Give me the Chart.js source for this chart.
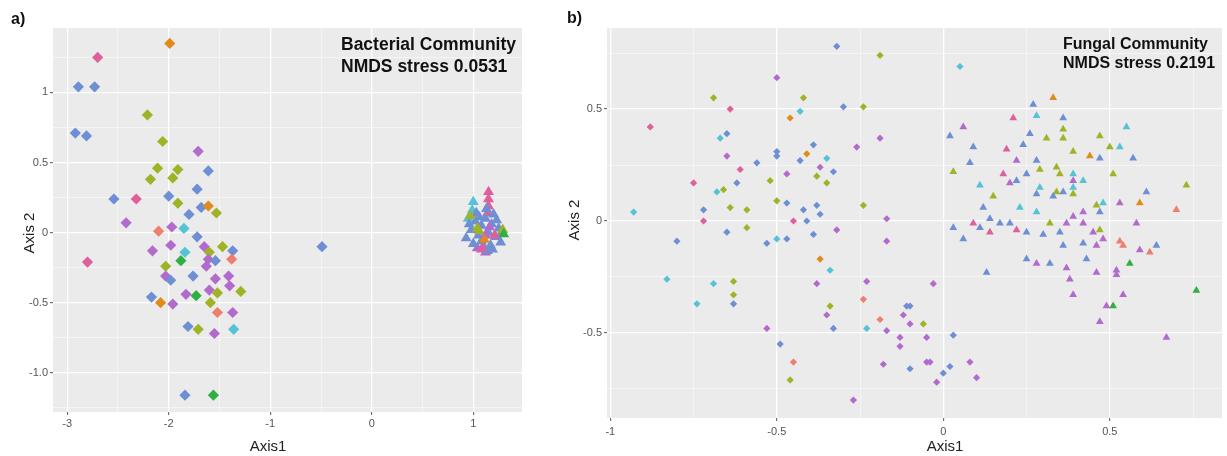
<!DOCTYPE html>
<html lang="en">
<head>
<meta charset="UTF-8">
<title>NMDS - Bacterial and Fungal Community</title>
<script src="https://cdn.jsdelivr.net/npm/chart.js@4"></script>
<style>
    html, body { margin: 0; padding: 0; background: #fff; }
    body { width: 1227px; height: 456px; position: relative; overflow: hidden; }
    .panel { position: absolute; top: 0; height: 456px; }
    #wrapA { left: 0; width: 540px; }
    #wrapB { left: 545px; width: 682px; }
</style>
</head>
<body>
<div class="panel" id="wrapA"><canvas id="chartA"></canvas></div>
<div class="panel" id="wrapB"><canvas id="chartB"></canvas></div>
<script>
// groups (colour key) -> palette
const groupColours = { B: '#6e8fd3', P: '#df5f9c', O: '#e08c1d', L: '#9fb327', U: '#b26bcd', C: '#55c3d6', S: '#ef7e6e', G: '#2fb043' };

// a) bacterial community: [axis1, axis2, group]
const bactDiamonds = [
    [-1.99,1.35,'O'],[-2.70,1.25,'P'],[-2.89,1.04,'B'],[-2.73,1.04,'B'],[-2.21,0.84,'L'],[-2.92,0.71,'B'],[-2.81,0.69,'B'],
    [-2.06,0.65,'L'],[-1.71,0.58,'U'],[-2.11,0.46,'L'],[-1.91,0.45,'L'],[-1.61,0.44,'B'],[-2.18,0.38,'L'],[-1.96,0.39,'L'],
    [-1.72,0.31,'B'],[-2.54,0.24,'B'],[-2.32,0.24,'P'],[-2.00,0.26,'B'],[-1.91,0.21,'L'],[-1.68,0.18,'B'],[-1.61,0.19,'O'],
    [-1.53,0.14,'L'],[-1.80,0.13,'B'],[-2.42,0.07,'U'],[-2.10,0.01,'S'],[-1.97,0.04,'U'],[-1.85,0.03,'C'],[-1.72,-0.03,'B'],
    [-2.16,-0.13,'U'],[-1.98,-0.09,'U'],[-1.84,-0.14,'C'],[-1.65,-0.10,'U'],[-1.60,-0.14,'L'],[-1.47,-0.10,'L'],[-1.37,-0.13,'B'],
    [-2.80,-0.21,'P'],[-2.03,-0.24,'L'],[-1.88,-0.20,'G'],[-1.61,-0.19,'U'],[-1.54,-0.20,'B'],[-1.63,-0.24,'U'],[-1.38,-0.19,'S'],
    [-2.03,-0.31,'U'],[-1.98,-0.34,'B'],[-1.76,-0.31,'B'],[-1.54,-0.33,'U'],[-1.41,-0.31,'U'],[-1.40,-0.38,'U'],[-1.60,-0.41,'U'],
    [-1.52,-0.43,'L'],[-1.29,-0.42,'L'],[-2.17,-0.46,'B'],[-1.83,-0.44,'U'],[-1.73,-0.45,'G'],[-2.08,-0.50,'O'],[-1.96,-0.51,'U'],
    [-1.59,-0.50,'L'],[-1.52,-0.57,'S'],[-1.37,-0.57,'U'],[-1.81,-0.67,'B'],[-1.71,-0.69,'L'],[-1.36,-0.69,'C'],[-1.55,-0.72,'U'],
    [-1.84,-1.16,'B'],[-1.56,-1.16,'G'],[-0.49,-0.10,'B']
];
const bactTriangles = [
    [1.15,0.29,'P'],[1.15,0.24,'P'],[1.15,0.19,'P'],[1.14,0.14,'P'],
    [1.00,0.22,'C'],[0.99,0.16,'C'],[0.95,0.10,'C'],
    [1.08,-0.12,'P'],[1.12,-0.14,'U'],[1.04,-0.11,'U'],
    [0.93,-0.04,'B'],[0.98,0.02,'B'],[1.02,0.08,'B'],[1.05,-0.02,'B'],[1.08,0.05,'B'],[1.12,0.10,'B'],[1.15,0.00,'B'],
    [1.18,0.06,'B'],[1.22,-0.03,'B'],[1.25,0.03,'B'],[1.27,-0.07,'B'],[1.20,0.13,'B'],[1.00,-0.08,'B'],[1.10,-0.10,'B'],
    [1.17,-0.09,'B'],[1.03,0.14,'B'],[1.13,0.17,'B'],[0.96,0.06,'B'],[1.08,-0.06,'B'],[1.23,0.09,'B'],[1.28,0.00,'B'],
    [1.06,0.11,'B'],[1.19,-0.12,'B'],[1.14,-0.13,'B'],
    [1.04,0.03,'L'],[1.06,0.01,'L'],[0.97,0.12,'L'],[1.29,0.02,'L'],
    [1.12,-0.02,'U'],[1.16,0.04,'U'],[1.11,-0.05,'O'],[1.30,-0.01,'G'],
    [1.21,-0.02,'P'],[1.09,-0.11,'P']
];

// b) fungal community: [axis1, axis2, group]
const fungDiamonds = [
    [-0.50,0.64,'U'],[-0.69,0.55,'L'],[-0.64,0.50,'P'],[-0.88,0.42,'P'],[-0.67,0.37,'C'],[-0.65,0.39,'B'],[-0.65,0.29,'U'],
    [-0.56,0.26,'B'],[-0.50,0.31,'B'],[-0.50,0.29,'B'],[-0.61,0.23,'P'],[-0.75,0.17,'P'],[-0.62,0.17,'B'],[-0.52,0.18,'L'],
    [-0.68,0.13,'C'],[-0.66,0.14,'L'],[-0.50,0.09,'L'],[-0.64,0.06,'L'],[-0.59,0.05,'L'],[-0.93,0.04,'C'],[-0.72,0.05,'B'],
    [-0.72,0.00,'P'],[-0.59,-0.03,'L'],[-0.65,-0.05,'B'],[-0.80,-0.09,'B'],[-0.53,-0.10,'B'],[-0.50,-0.08,'C'],[-0.83,-0.26,'C'],
    [-0.69,-0.28,'C'],[-0.63,-0.27,'L'],[-0.63,-0.33,'L'],[-0.74,-0.37,'C'],[-0.63,-0.37,'B'],[-0.53,-0.48,'U'],[-0.49,-0.55,'B'],
    [-0.32,0.78,'B'],[-0.19,0.74,'L'],[-0.42,0.55,'L'],[-0.43,0.49,'C'],[-0.46,0.46,'O'],[-0.30,0.51,'B'],[-0.24,0.51,'L'],
    [-0.19,0.37,'U'],[-0.26,0.33,'U'],[-0.39,0.34,'B'],[-0.41,0.30,'O'],[-0.43,0.27,'B'],[-0.35,0.28,'C'],[-0.37,0.24,'U'],
    [-0.33,0.22,'B'],[-0.47,0.21,'U'],[-0.38,0.20,'L'],[-0.35,0.17,'L'],[-0.47,0.08,'B'],[-0.38,0.07,'B'],[-0.42,0.05,'B'],
    [-0.37,0.03,'B'],[-0.24,0.07,'L'],[-0.45,0.00,'P'],[-0.41,0.00,'B'],[-0.17,0.01,'U'],[-0.32,-0.04,'U'],[-0.39,-0.06,'B'],
    [-0.47,-0.08,'B'],[0.05,0.69,'C'],
    [-0.17,-0.09,'U'],[-0.37,-0.17,'O'],[-0.34,-0.22,'C'],[-0.38,-0.28,'U'],[-0.23,-0.27,'U'],[-0.03,-0.28,'U'],[-0.24,-0.35,'S'],
    [-0.34,-0.38,'L'],[-0.35,-0.42,'U'],[-0.11,-0.38,'B'],[-0.10,-0.38,'B'],[-0.12,-0.42,'U'],[-0.19,-0.44,'S'],[-0.10,-0.46,'U'],
    [-0.06,-0.46,'L'],[-0.33,-0.48,'B'],[-0.23,-0.48,'C'],[-0.17,-0.49,'U'],[-0.13,-0.52,'U'],[-0.05,-0.52,'U'],[-0.13,-0.56,'U'],
    [-0.45,-0.63,'S'],[-0.18,-0.64,'U'],[-0.10,-0.66,'B'],[-0.05,-0.63,'U'],[-0.04,-0.63,'U'],[0.00,-0.68,'B'],[-0.46,-0.71,'L'],
    [-0.02,-0.72,'U'],[0.02,-0.65,'B'],[-0.27,-0.80,'U'],[0.03,-0.51,'B'],[0.08,-0.63,'U'],[0.10,-0.70,'U']
];
const fungTriangles = [
    [0.33,0.55,'O'],[0.27,0.52,'B'],[0.28,0.47,'C'],[0.21,0.46,'P'],[0.36,0.46,'B'],[0.36,0.41,'L'],[0.06,0.42,'U'],
    [0.02,0.38,'B'],[0.26,0.39,'B'],[0.31,0.37,'L'],[0.36,0.37,'L'],[0.55,0.42,'C'],[0.47,0.38,'L'],[0.50,0.33,'L'],
    [0.53,0.33,'C'],[0.09,0.33,'B'],[0.19,0.32,'P'],[0.24,0.34,'B'],[0.39,0.31,'L'],[0.44,0.29,'O'],[0.47,0.28,'B'],
    [0.57,0.28,'B'],[0.08,0.26,'B'],[0.22,0.27,'U'],[0.28,0.27,'B'],[0.03,0.22,'L'],[0.29,0.23,'L'],[0.34,0.24,'L'],
    [0.35,0.21,'L'],[0.39,0.21,'C'],[0.42,0.18,'C'],[0.51,0.21,'L'],[0.18,0.21,'P'],[0.20,0.17,'U'],[0.22,0.18,'B'],
    [0.25,0.21,'B'],[0.39,0.18,'U'],[0.39,0.15,'C'],[0.73,0.16,'L'],[0.11,0.16,'C'],[0.29,0.15,'C'],[0.28,0.12,'B'],
    [0.34,0.13,'L'],[0.36,0.13,'B'],[0.39,0.12,'L'],[0.15,0.11,'L'],[0.33,0.11,'B'],[0.61,0.13,'B'],[0.59,0.08,'O'],
    [0.53,0.08,'U'],[0.46,0.07,'L'],[0.48,0.08,'C'],[0.70,0.05,'S'],[0.12,0.06,'B'],[0.23,0.06,'C'],[0.28,0.04,'C'],
    [0.42,0.04,'U'],[0.39,0.02,'U'],[0.47,0.04,'B'],[0.14,0.01,'B'],[0.03,-0.03,'B'],[0.09,-0.01,'P'],[0.11,-0.03,'B'],
    [0.14,-0.05,'P'],[0.17,-0.01,'B'],[0.20,-0.01,'B'],[0.22,-0.04,'P'],[0.25,-0.05,'B'],[0.32,-0.01,'L'],[0.37,-0.01,'U'],
    [0.42,-0.01,'U'],[0.58,-0.01,'U'],[0.35,-0.05,'B'],[0.30,-0.06,'B'],[0.45,-0.05,'U'],[0.47,-0.04,'L'],
    [0.06,-0.08,'B'],[0.48,-0.08,'U'],[0.53,-0.09,'S'],[0.54,-0.11,'S'],[0.59,-0.13,'U'],[0.62,-0.14,'S'],[0.64,-0.11,'B'],
    [0.36,-0.11,'B'],[0.42,-0.10,'B'],[0.46,-0.11,'U'],[0.25,-0.17,'B'],[0.28,-0.19,'U'],[0.32,-0.19,'B'],[0.43,-0.17,'B'],
    [0.37,-0.21,'U'],[0.46,-0.23,'U'],[0.52,-0.22,'U'],[0.52,-0.24,'U'],[0.56,-0.19,'G'],[0.13,-0.23,'B'],[0.38,-0.26,'U'],
    [0.39,-0.33,'U'],[0.54,-0.33,'U'],[0.76,-0.31,'G'],[0.49,-0.38,'U'],[0.51,-0.38,'G'],[0.47,-0.45,'U'],[0.67,-0.52,'U']
];

// tick values and labels
const aXMajor = [-3, -2, -1, 0, 1];
const aXLabels = ['-3', '-2', '-1', '0', '1'];
const aXMinor = [-2.5, -1.5, -0.5, 0.5];
const aYMajor = [-1, -0.5, 0, 0.5, 1];
const aYLabels = ['-1.0', '-0.5', '0', '0.5', '1'];
const aYMinor = [-1.25, -0.75, -0.25, 0.25, 0.75, 1.25];

const bXMajor = [-1, -0.5, 0, 0.5];
const bXLabels = ['-1', '-0.5', '0', '0.5'];
const bXMinor = [-0.75, -0.25, 0.25, 0.75];
const bYMajor = [-0.5, 0, 0.5];
const bYLabels = ['-0.5', '0', '0.5'];
const bYMinor = [-0.75, -0.25, 0.25, 0.75];

const FONT = "'Liberation Sans', Arial, sans-serif";

// grey panel like ggplot
const panelBg = {
    id: 'panelBg',
    beforeDraw(chart) {
        const a = chart.chartArea, ctx = chart.ctx;
        ctx.save();
        ctx.fillStyle = '#ebebeb';
        ctx.fillRect(a.left, a.top, a.right - a.left, a.bottom - a.top);
        ctx.restore();
    }
};

const panelText = {
    id: 'panelText',
    afterDraw(chart, args, o) {
        const ctx = chart.ctx;
        ctx.save();
        ctx.fillStyle = '#111';
        ctx.textBaseline = 'middle';
        ctx.textAlign = 'left';
        ctx.font = 'bold 16px ' + FONT;
        ctx.fillText(o.tag, o.tagX, o.tagY);
        ctx.font = 'bold ' + o.noteSize + 'px ' + FONT;
        o.note.forEach((t, i) => ctx.fillText(t, o.noteX, o.noteY + i * o.noteGap));
        ctx.fillStyle = '#222';
        ctx.font = '15px ' + FONT;
        ctx.textAlign = 'center';
        ctx.fillText('Axis1', o.xTitleX, 447);
        ctx.translate(o.yTitleX, o.yTitleY);
        ctx.rotate(-Math.PI / 2);
        ctx.fillText('Axis 2', 0, 0);
        ctx.restore();
    }
};

function toPoints(rows) {
    return rows.map(r => ({ x: r[0], y: r[1] }));
}

function makeScale(min, max, major, labels, minor, fit, pad) {
    const isMajor = v => major.some(m => Math.abs(m - v) < 1e-9);
    return {
        type: 'linear', min: min, max: max,
        afterBuildTicks: s => { s.ticks = major.concat(minor).map(v => ({ value: v })); },
        afterFit: fit,
        border: { display: false },
        grid: {
            color: c => isMajor(c.tick.value) ? '#ffffff' : 'rgba(255,255,255,0.7)',
            lineWidth: c => isMajor(c.tick.value) ? 1.3 : 0.7,
            tickLength: 3,
            tickColor: c => isMajor(c.tick.value) ? '#555' : 'rgba(0,0,0,0)',
            tickWidth: 1
        },
        ticks: {
            autoSkip: false, maxRotation: 0, padding: pad,
            color: '#555', font: { size: 11, family: FONT },
            callback: v => {
                const i = major.findIndex(m => Math.abs(m - v) < 1e-9);
                return i < 0 ? '' : labels[i];
            }
        }
    };
}

function makeChart(id, sets, cfg) {
    return new Chart(document.getElementById(id), {
        type: 'scatter',
        data: {
            datasets: sets.map(s => ({
                data: toPoints(s.rows),
                pointStyle: s.style,
                pointRadius: s.r,
                pointHoverRadius: s.r,
                pointBorderWidth: 0,
                pointBackgroundColor: s.rows.map(r => groupColours[r[2]]),
                pointBorderColor: s.rows.map(r => groupColours[r[2]])
            }))
        },
        options: {
            responsive: true,
            maintainAspectRatio: false,
            animation: false,
            layout: { padding: cfg.padding },
            plugins: { legend: { display: false }, tooltip: { enabled: false }, panelText: cfg.text },
            scales: { x: cfg.x, y: cfg.y }
        },
        plugins: [panelBg, panelText]
    });
}

makeChart('chartA', [
    { rows: bactDiamonds, style: 'rectRot', r: 5.6 },
    { rows: bactTriangles, style: 'triangle', r: 6.3 }
], {
    padding: { top: 28, right: 18, left: 0, bottom: 0 },
    x: makeScale(-3.14, 1.48, aXMajor, aXLabels, aXMinor, s => { s.height = 44; }, 2),
    y: makeScale(-1.28, 1.46, aYMajor, aYLabels, aYMinor, s => { s.width = 53; }, 2),
    text: {
        tag: 'a)', tagX: 11, tagY: 20,
        note: ['Bacterial Community', 'NMDS stress 0.0531'], noteSize: 17.5, noteX: 341, noteY: 45, noteGap: 22,
        xTitleX: 268, yTitleX: 30, yTitleY: 233
    }
});

makeChart('chartB', [
    { rows: fungDiamonds, style: 'rectRot', r: 3.6 },
    { rows: fungTriangles, style: 'triangle', r: 4.5 }
], {
    padding: { top: 28, right: 5, left: 0, bottom: 0 },
    x: makeScale(-1.01, 0.837, bXMajor, bXLabels, bXMinor, s => { s.height = 38; }, 4),
    y: makeScale(-0.88, 0.862, bYMajor, bYLabels, bYMinor, s => { s.width = 62; }, 2),
    text: {
        tag: 'b)', tagX: 22, tagY: 19,
        note: ['Fungal Community', 'NMDS stress 0.2191'], noteSize: 16, noteX: 518, noteY: 45, noteGap: 19,
        xTitleX: 400, yTitleX: 30, yTitleY: 220
    }
});
</script>
</body>
</html>
